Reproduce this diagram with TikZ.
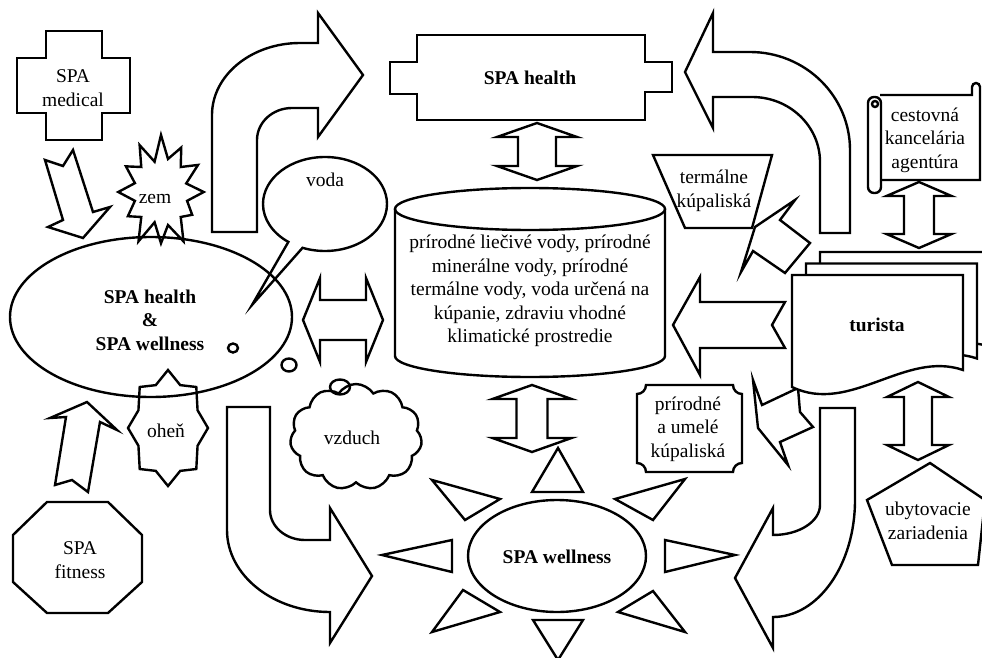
\documentclass[tikz,border=0pt]{standalone}
\usepackage{fontspec}
\setmainfont{Liberation Serif}
\usetikzlibrary{shapes.geometric,shapes.symbols,shapes.callouts}

% double headed block arrow: centre x, centre y, angle, length, head width, shaft width, head length
\newcommand{\dblarrow}[7]{%
  \draw[shift={(#1,#2)},rotate=#3]
    ({-#4/2},0) -- ({-#4/2+#7},{-#5/2}) -- ({-#4/2+#7},{-#6/2}) -- ({#4/2-#7},{-#6/2})
    -- ({#4/2-#7},{-#5/2}) -- ({#4/2},0) -- ({#4/2-#7},{#5/2}) -- ({#4/2-#7},{#6/2})
    -- ({-#4/2+#7},{#6/2}) -- ({-#4/2+#7},{#5/2}) -- cycle;}

\begin{document}
\begin{tikzpicture}[x=1pt,y=-1pt,line width=2.4pt,
  every node/.style={align=center,font=\fontsize{19.5}{23.5}\selectfont},
  oval/.style={ellipse,draw,inner sep=0pt},
  label text/.style={font=\fontsize{19.5}{23.5}\selectfont\bfseries},
  paper/.style={draw,fill=white}]

  \fill[white] (0,0) rectangle (982,658);
  \useasboundingbox (0,0) rectangle (982,658);

  % curved arrows
  \draw (212,232) -- (212,115) arc[start angle=180,end angle=270,x radius=88,y radius=72]
    -- (318,43) -- (318,13) -- (363,75) -- (318,137) -- (318,108) -- (292,108)
    arc[start angle=270,end angle=180,x radius=35,y radius=32] -- (257,232) -- cycle;
  \draw (227,407) -- (227,530) arc[start angle=180,end angle=90,x radius=103,y radius=82]
    -- (330,643) -- (372,576) -- (330,508) -- (330,540) -- (305,540)
    arc[start angle=90,end angle=180,x radius=35,y radius=30] -- (270,407) -- cycle;
  \draw (850,233) -- (850,150) arc[start angle=0,end angle=-90,x radius=100,y radius=98]
    -- (713,52) -- (713,13) -- (685,72) -- (713,128) -- (713,97) -- (752,97)
    arc[start angle=-90,end angle=0,x radius=68,y radius=65] -- (820,233) -- cycle;
  \draw (855,408) -- (855,500) arc[start angle=0,end angle=90,x radius=82,y radius=117]
    -- (773,648) -- (735,578) -- (773,508) -- (773,535)
    arc[start angle=90,end angle=0,x radius=47,y radius=30] -- (820,408) -- cycle;

  % notched arrows
  \draw (45,160) -- (63,166) -- (73,150) -- (93,212) -- (110,207) -- (83,238) -- (48,227) -- (63,220) -- cycle;
  \draw (55,485) -- (72,480) -- (88,492) -- (100,422) -- (117,430) -- (87,402) -- (50,418) -- (66,417) -- cycle;
  \draw (673,325) -- (700,277) -- (700,302) -- (785,302) -- (772,325) -- (785,348) -- (700,348) -- (700,375) -- cycle;
  \draw (755,227) -- (795,200) -- (780,220) -- (810,243) -- (785,273) -- (753,251) -- (741,272) -- cycle;
  \draw (753,380) -- (762,405) -- (798,388) -- (800,412) -- (813,427) -- (780,442) -- (788,465) -- (758,428) -- cycle;

  % double arrows
  \dblarrow{343}{320}{0}{80}{84}{40}{17}
  \dblarrow{537}{151.5}{90}{57}{80}{38}{14}
  \dblarrow{532}{418.5}{90}{67}{79}{31}{14}
  \dblarrow{919}{215}{90}{66}{65}{30}{14}
  \dblarrow{918}{421}{90}{78}{62}{28}{15}

  % SPA medical
  \draw (46,31) -- (102,31) -- (102,58) -- (130,58) -- (130,113) -- (102,113) -- (102,140)
    -- (46,140) -- (46,113) -- (17,113) -- (17,58) -- (46,58) -- cycle;
  \node (medical) at (73,88) {SPA\\medical};

  % zem
  \draw[shift={(161,192)},xscale=45,yscale=57] (0:0.95)
    \foreach \r [count=\k] in {0.6,0.8,0.62,1,0.6,0.9,0.55,1,0.62,0.85,0.6,0.95,
                               0.6,0.9,0.62,0.95,0.55,1,0.6,0.9,0.62,0.95,0.58}
      { -- ({\k*15}:\r) } -- cycle;
  \node (zem) at (155,199) {zem};

  % voda
  \node[ellipse callout,draw,fill=white,minimum width=124pt,minimum height=94pt,
        callout absolute pointer={(252,305)}] (voda) at (325,204) {};
  \node (vodatext) at (325,180) {voda};

  % SPA health & SPA wellness
  \node[oval,minimum width=282pt,minimum height=160pt] (both) at (151,317) {};
  \node[label text] (bothtext) at (150,320) {SPA health\\\&\\SPA wellness};

  % ohen
  \draw[shift={(168,428)},xscale=40,yscale=58] (0:1)
    \foreach \k in {1,...,15} { -- ({\k*22.5}:{mod(\k,2)==0 ? 1 : 0.8}) } -- cycle;
  \node (ohen) at (166,431) {oheň};

  % SPA fitness
  \draw (47,502) -- (108,502) -- (142,535) -- (142,582) -- (108,613) -- (47,613) -- (13,582) -- (13,535) -- cycle;
  \node (fitness) at (80,560) {SPA\\fitness};

  % vzduch
  \node[cloud,draw,cloud puffs=11,cloud puff arc=115,aspect=1.25,
        minimum width=132pt,minimum height=106pt] (vzduch) at (356,437) {};
  \node (vzduchtext) at (352,438) {vzduch};
  \draw (340,387) ellipse[x radius=10,y radius=7.5];
  \draw (289,365) ellipse[x radius=7.5,y radius=6.5];
  \draw (233,348) ellipse[x radius=5,y radius=4.5];

  % SPA health
  \draw (417,35) -- (645,35) -- (645,62) -- (672,62) -- (672,92) -- (645,92) -- (645,120)
    -- (417,120) -- (417,94) -- (390,94) -- (390,62) -- (417,62) -- cycle;
  \node[label text] (health) at (530,78) {SPA health};

  % waters
  \draw (395,209) -- (395,356) arc[start angle=180,end angle=0,x radius=135,y radius=21] -- (665,209);
  \draw (530,209) ellipse[x radius=135,y radius=21];
  \node (waters) at (530,291) {prírodné liečivé vody, prírodné\\minerálne vody, prírodné\\termálne vody, voda určená na\\kúpanie, zdraviu vhodné\\klimatické prostredie};

  % SPA wellness
  \node[oval,minimum width=178pt,minimum height=112pt] (wellness) at (557,556) {};
  \node[label text] (wellnesstext) at (557,557) {SPA wellness};
  \foreach \ax/\ay/\bx/\by/\cx/\cy in {558/448/532/492/583/492, 558/660/533/620/583/620,
      382/555/452/540/452/572, 735/555/665/540/665/572, 432/480/500/499/465/520,
      685/479/615/499/653/520, 432/632/463/590/500/612, 685/632/618/612/653/591}
    \draw (\ax,\ay) -- (\bx,\by) -- (\cx,\cy) -- cycle;

  % termalne kupaliska
  \draw[fill=white] (653,155) -- (772,155) -- (752,228) -- (685,228) -- cycle;
  \node (termalne) at (714,191) {termálne\\kúpaliská};

  % prirodne a umele kupaliska
  \draw (646,385) -- (733,385) arc[start angle=180,end angle=90,radius=9] -- (742,463)
    arc[start angle=270,end angle=180,radius=9] -- (646,472)
    arc[start angle=0,end angle=-90,radius=9] -- (637,394)
    arc[start angle=90,end angle=0,radius=9] -- cycle;
  \node (kupaliska) at (688,429) {prírodné\\a umelé\\kúpaliská};

  % cestovna kancelaria
  \draw (880,95) -- (972,95) -- (972,87) arc[start angle=180,end angle=360,radius=4] -- (980,180) -- (880,180);
  \draw[rounded corners=6pt] (868,97) rectangle (881,193);
  \draw (875,104) circle[radius=3];
  \node (agentura) at (925,140) {cestovná\\kancelária\\agentúra};

  % turista
  \foreach \d in {2,1,0}
    \draw[paper,shift={(14*\d,-11.5*\d)}] (792,275) -- (963,275) -- (963,370)
      .. controls (905,350) and (850,415) .. (792,387) -- cycle;
  \node[label text] (turista) at (877,325) {turista};

  % ubytovacie zariadenia
  \draw (930,463) -- (985,500) -- (978,565) -- (892,565) -- (867,500) -- cycle;
  \node (ubytovanie) at (928,521) {ubytovacie\\zariadenia};
\end{tikzpicture}
\end{document}
